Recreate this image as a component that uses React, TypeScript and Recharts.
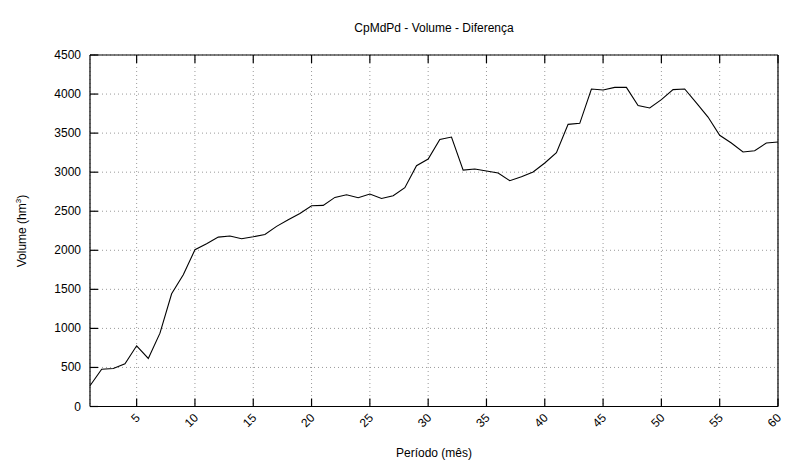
import React from 'react'
import { LineChart, Line, XAxis, YAxis, CartesianGrid } from 'recharts'

const months = [
  1, 2, 3, 4, 5, 6, 7, 8, 9, 10, 11, 12, 13, 14, 15, 16, 17, 18, 19, 20,
  21, 22, 23, 24, 25, 26, 27, 28, 29, 30, 31, 32, 33, 34, 35, 36, 37, 38, 39, 40,
  41, 42, 43, 44, 45, 46, 47, 48, 49, 50, 51, 52, 53, 54, 55, 56, 57, 58, 59, 60,
]

const volumeDiff = [
  265, 478, 487, 547, 777, 615, 939, 1443, 1687, 2007,
  2084, 2169, 2182, 2148, 2173, 2203, 2306, 2391, 2472, 2571,
  2575, 2677, 2711, 2673, 2720, 2664, 2699, 2801, 3083, 3168,
  3420, 3450, 3027, 3040, 3015, 2989, 2891, 2942, 3002, 3117,
  3249, 3612, 3625, 4065, 4052, 4086, 4086, 3852, 3822, 3928,
  4057, 4065, 3886, 3706, 3472, 3373, 3258, 3275, 3373, 3386,
]

const xTicks = [5, 10, 15, 20, 25, 30, 35, 40, 45, 50, 55, 60]
const yTicks = [0, 500, 1000, 1500, 2000, 2500, 3000, 3500, 4000, 4500]

const title = 'CpMdPd - Volume - Diferença'
const xLabel = 'Período (mês)'

const FONT = '"Liberation Sans", Arial, Helvetica, sans-serif'
// negative tick size -> tick marks point into the plot (gnuplot style)
const TICK_LEN = 8

const chartData = months.map((m, i) => ({ month: m, value: volumeDiff[i] }))

const tickLineStyle = { stroke: '#000', strokeWidth: 1.2 }

function BottomTick(props: any) {
  const { x, y, payload } = props
  const tx = x + 4
  const ty = y + TICK_LEN + 12
  return (
    <text
      x={tx}
      y={ty}
      textAnchor="end"
      transform={`rotate(-45 ${tx} ${ty})`}
      fontSize={12}
      fontFamily={FONT}
      fill="#000"
    >
      {payload.value}
    </text>
  )
}

function LeftTick(props: any) {
  const { x, y, payload } = props
  return (
    <text x={x - TICK_LEN - 9} y={y} dy={4} textAnchor="end" fontSize={12} fontFamily={FONT} fill="#000">
      {payload.value}
    </text>
  )
}

function NoLabel() {
  return <g />
}

export default function App() {
  return (
    <div style={{ position: 'absolute', left: 0, top: 0, width: 791, height: 465, background: '#fff' }}>
      <LineChart
        width={791}
        height={465}
        data={chartData}
        margin={{ top: 55, right: 13, bottom: 0, left: 0 }}
      >
        <text x={434} y={32} textAnchor="middle" fontSize={12} fontFamily={FONT} fill="#000">
          {title}
        </text>
        <text x={434} y={457} textAnchor="middle" fontSize={12} fontFamily={FONT} fill="#000">
          {xLabel}
        </text>
        <text
          x={26}
          y={231}
          textAnchor="middle"
          transform="rotate(-90 26 231)"
          fontSize={12}
          fontFamily={FONT}
          fill="#000"
        >
          Volume (hm
          <tspan dy={-5} fontSize={8}>3</tspan>
          <tspan dy={5}>)</tspan>
        </text>
        <CartesianGrid xAxisId="bottom" yAxisId="left" stroke="#9a9a9a" strokeDasharray="1 3" />
        <XAxis
          xAxisId="bottom"
          dataKey="month"
          type="number"
          domain={[1, 60]}
          ticks={xTicks}
          height={58.5}
          tickSize={-TICK_LEN}
          tickMargin={0}
          stroke="#000"
          strokeWidth={1.2}
          tickLine={tickLineStyle}
          tick={<BottomTick />}
        />
        <XAxis
          xAxisId="top"
          orientation="top"
          dataKey="month"
          type="number"
          domain={[1, 60]}
          ticks={xTicks}
          height={0.01}
          tickSize={-TICK_LEN}
          tickMargin={0}
          stroke="#000"
          strokeWidth={1.2}
          tickLine={tickLineStyle}
          tick={<NoLabel />}
        />
        <YAxis
          yAxisId="left"
          type="number"
          domain={[0, 4500]}
          ticks={yTicks}
          width={90}
          tickSize={-TICK_LEN}
          tickMargin={0}
          stroke="#000"
          strokeWidth={1.2}
          tickLine={tickLineStyle}
          tick={<LeftTick />}
        />
        <YAxis
          yAxisId="right"
          orientation="right"
          type="number"
          domain={[0, 4500]}
          ticks={yTicks}
          width={0.01}
          tickSize={-TICK_LEN}
          tickMargin={0}
          stroke="#000"
          strokeWidth={1.2}
          tickLine={tickLineStyle}
          tick={<NoLabel />}
        />
        <Line
          xAxisId="bottom"
          yAxisId="left"
          type="linear"
          dataKey="value"
          stroke="#000"
          strokeWidth={1.1}
          dot={false}
          isAnimationActive={false}
        />
      </LineChart>
    </div>
  )
}
